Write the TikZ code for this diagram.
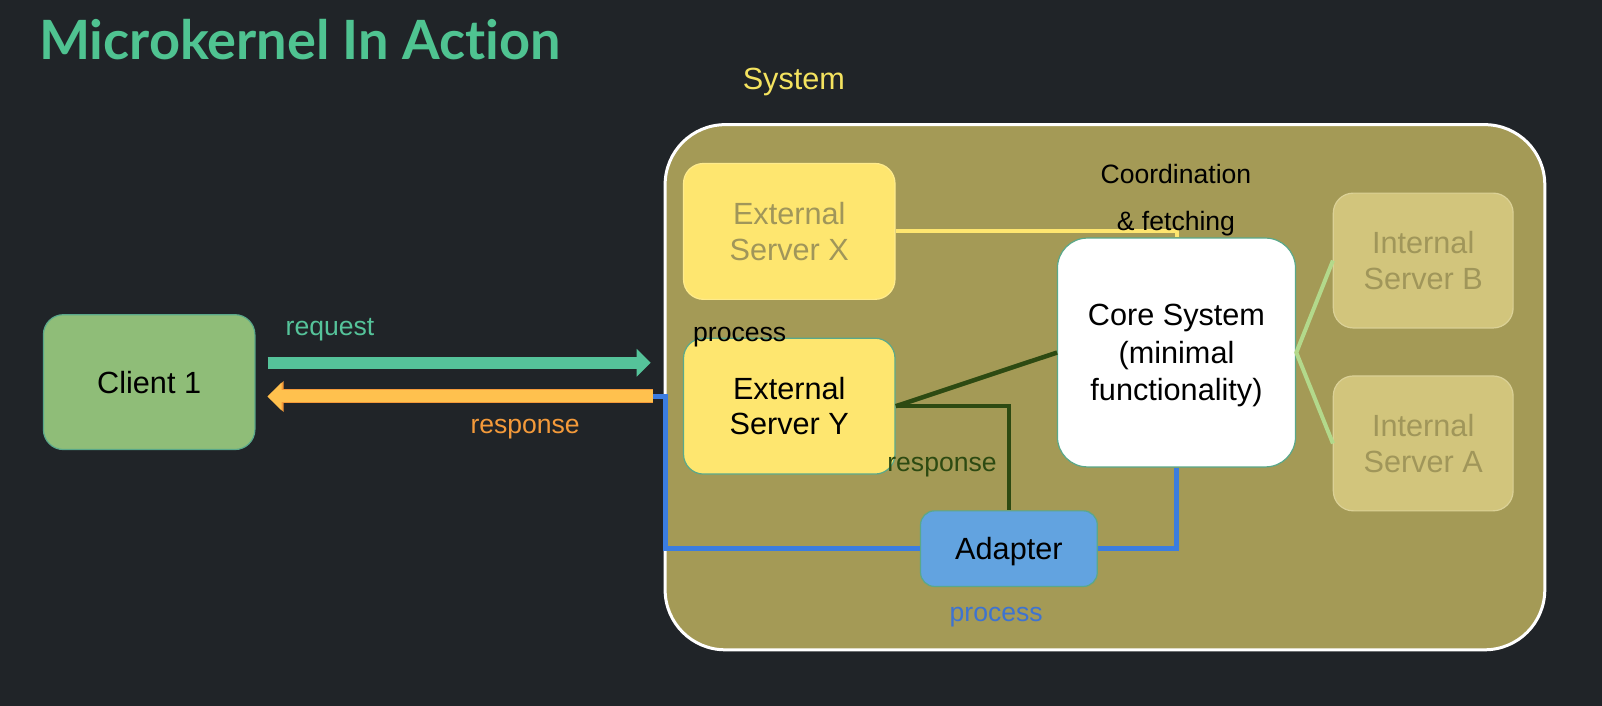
\documentclass[tikz,border=0pt]{standalone}
\usepackage{fontspec}
\setmainfont{Liberation Sans}
\newfontfamily\titlefont{Lato}[Ligatures=NoCommon]
\usetikzlibrary{arrows.meta,positioning}

\definecolor{bgdark}{RGB}{32,36,40}
\definecolor{titlegreen}{RGB}{79,195,145}
\definecolor{sysyellow}{RGB}{244,227,95}
\definecolor{sysolive}{RGB}{164,154,86}
\definecolor{srvyellow}{RGB}{254,230,111}
\definecolor{fadetext}{RGB}{160,150,90}
\definecolor{tealedge}{RGB}{90,168,138}
\definecolor{adapterblue}{RGB}{98,163,224}
\definecolor{procblue}{RGB}{59,125,224}
\definecolor{procblabel}{RGB}{62,115,208}
\definecolor{darkgreen}{RGB}{45,74,18}
\definecolor{lightgreen}{RGB}{179,217,139}
\definecolor{intfill}{RGB}{210,197,124}
\definecolor{clientgreen}{RGB}{143,189,120}
\definecolor{reqteal}{RGB}{85,195,154}
\definecolor{resfill}{RGB}{255,193,78}
\definecolor{resorange}{RGB}{244,154,58}

\tikzset{
  box/.style={rounded corners=20pt, draw=tealedge, line width=1.2pt,
    minimum width=207pt, minimum height=133pt, align=center,
    font=\fontsize{30}{35}\selectfont},
  faded/.style={box, draw=srvyellow!80!white, text=fadetext},
  label/.style={font=\fontsize{26}{30}\selectfont, inner sep=0pt},
  reqarrow/.style={draw=reqteal, line width=12pt,
    -{Triangle[length=14pt,width=27pt]}},
  resarrow/.style={draw=resfill, line width=12pt,
    -{Triangle[length=14pt,width=27pt]},
    preaction={draw=resorange, line width=14pt,
      -{Triangle[length=16pt,width=30pt]}}},
  procline/.style={draw=procblue, line width=5pt},
  yline/.style={draw=darkgreen, line width=4.5pt},
}

\begin{document}
\begin{tikzpicture}[x=1pt,y=-1pt,scale=1.0217,
    every node/.append style={transform shape}]
  \fill[bgdark] (0,0) rectangle (1568,691);
  \useasboundingbox (0,0) rectangle (1568,691);

  \node[anchor=base west, text=titlegreen, inner sep=0pt,
    font=\titlefont\bfseries\fontsize{53}{60}\selectfont] (title) at (38,58)
    {Microkernel In Action};

  % system boundary
  \node[label, text=sysyellow, font=\fontsize{30}{35}\selectfont] (systxt) at (777,80) {System};
  \node[draw=white, line width=3pt, fill=sysolive, rounded corners=60pt,
    minimum width=861pt, minimum height=514pt] (sys) at (1081.5,379) {};

  % boxes
  \node[box, fill=clientgreen, minimum height=132pt] (client) at (146,374) {Client 1};
  \node[faded, fill=srvyellow] (srvx) at (772.5,226.5) {External\\Server X};
  \node[box, fill=srvyellow] (srvy) at (772.5,397.5) {External\\Server Y};
  \node[box, fill=white, minimum width=233pt, minimum height=224pt,
    rounded corners=30pt, font=\fontsize{30}{37}\selectfont,
    text depth=0pt] (core) at (1151.5,345)
    {Core System\\(minimal\\functionality)};
  \node[box, fill=adapterblue, minimum width=173pt, minimum height=74pt,
    rounded corners=14pt, text depth=0pt] (adapter) at (987.5,537) {Adapter};
  \node[faded, draw=intfill!80!white, fill=intfill, minimum width=176pt,
    minimum height=132pt] (intb) at (1393,255) {Internal\\Server B};
  \node[faded, draw=intfill!80!white, fill=intfill, minimum width=176pt,
    minimum height=132pt] (inta) at (1393,434) {Internal\\Server A};

  % request / response
  \coordinate (reqy) at (0,355);
  \coordinate (respy) at (0,388);
  \draw[reqarrow, shorten <=12pt, shorten >=13pt] (client.east |- reqy) -- (sys.west |- reqy);
  \draw[procline] ([xshift=-11pt]sys.west |- respy) -- ([xshift=2pt]sys.west |- respy)
    |- (adapter.west);
  \draw[resarrow, shorten <=11pt, shorten >=12pt] (sys.west |- respy) -- (client.east |- respy);
  \node[label, text=reqteal] (reqtxt) at (323,323) {request};
  \node[label, text=resorange] (restxt) at (514,420) {response};

  % inside the system
  \draw[draw=srvyellow, line width=4pt] (srvx.east) -- (srvx.east -| core.north) -- (core.north);
  \draw[yline] (srvy.east) -- (core.west);
  \draw[yline] (srvy.east) -| (adapter.north);
  \draw[procline] (adapter.east) -| (core.south);
  \draw[draw=lightgreen, line width=4pt] (intb.west) -- (core.east) -- (inta.west);

  \node[label] (coordtxt) at (1151,170) {Coordination};
  \node[label] (fetchtxt) at (1151,219) {\& fetching};
  \node[label] (proctxt) at (724,330) {process};
  \node[label, text=darkgreen] (yresptxt) at (922,457) {response};
  \node[label, text=procblabel] (adproctxt) at (975,604) {process};
\end{tikzpicture}
\end{document}
